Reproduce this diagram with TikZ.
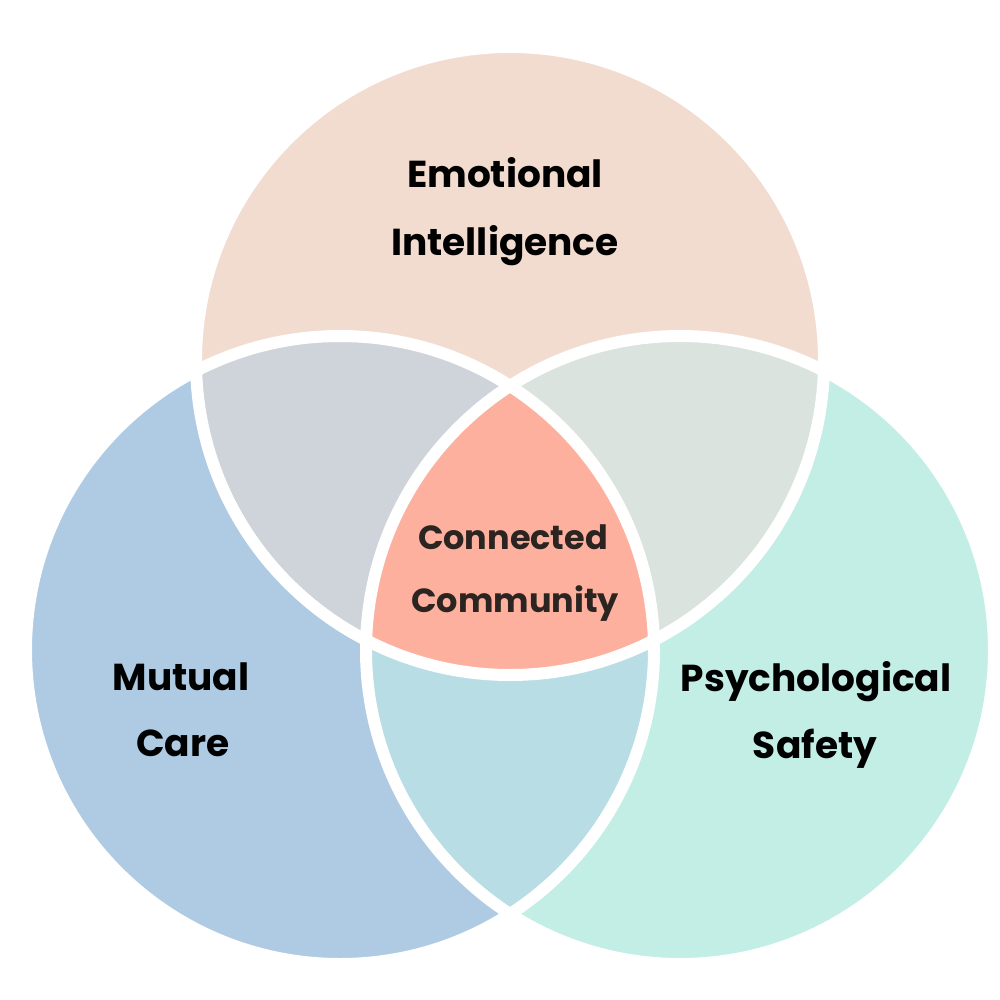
\documentclass[tikz,border=0pt]{standalone}
\usepackage{fontspec}
\setmainfont{Poppins}
\definecolor{peach}{HTML}{F2DCD0}
\definecolor{skyblue}{HTML}{AFCBE3}
\definecolor{mint}{HTML}{C2EEE6}
\definecolor{greyblue}{HTML}{CFD3DA}
\definecolor{sage}{HTML}{DAE3DD}
\definecolor{paleteal}{HTML}{B8DDE5}
\definecolor{salmon}{HTML}{FDB09E}
\definecolor{darkbrown}{HTML}{2B2420}
\tikzset{
  ring/.style={draw=white, line width=12pt},
  lbl/.style={anchor=base, inner sep=0pt, font=\fontsize{37.5}{45}\selectfont\bfseries},
  midlbl/.style={lbl, text=darkbrown, font=\fontsize{33.5}{40}\selectfont\bfseries}
}
\begin{document}
\begin{tikzpicture}[x=1pt,y=-1pt]
\useasboundingbox (0,0) rectangle (1000,1000);
\coordinate (ei) at (510,361);
\coordinate (mc) at (340,650);
\coordinate (ps) at (680,650);

% circles
\fill[peach] (ei) circle[radius=314pt];
\fill[skyblue] (mc) circle[radius=314pt];
\fill[mint] (ps) circle[radius=314pt];

% overlaps
\begin{scope}
  \clip (ei) circle[radius=314pt];
  \fill[greyblue] (mc) circle[radius=314pt];
  \fill[sage] (ps) circle[radius=314pt];
\end{scope}
\begin{scope}
  \clip (mc) circle[radius=314pt];
  \fill[paleteal] (ps) circle[radius=314pt];
\end{scope}
\begin{scope}
  \clip (ei) circle[radius=314pt];
  \clip (mc) circle[radius=314pt];
  \fill[salmon] (ps) circle[radius=314pt];
\end{scope}

% white rings
\draw[ring] (ei) circle[radius=314pt];
\draw[ring] (mc) circle[radius=314pt];
\draw[ring] (ps) circle[radius=314pt];

% labels
\node[lbl] (ei1) at (505,188) {Emotional};
\node[lbl] (ei2) at (505,255) {Intelligence};
\node[lbl] (mc1) at (181,690) {Mutual};
\node[lbl] (mc2) at (183,756) {Care};
\node[lbl] (ps1) at (816,691) {Psychological};
\node[lbl] (ps2) at (815,758) {Safety};
\node[midlbl] (cc1) at (513,549) {Connected};
\node[midlbl] (cc2) at (515,612) {Community};
\end{tikzpicture}
\end{document}
